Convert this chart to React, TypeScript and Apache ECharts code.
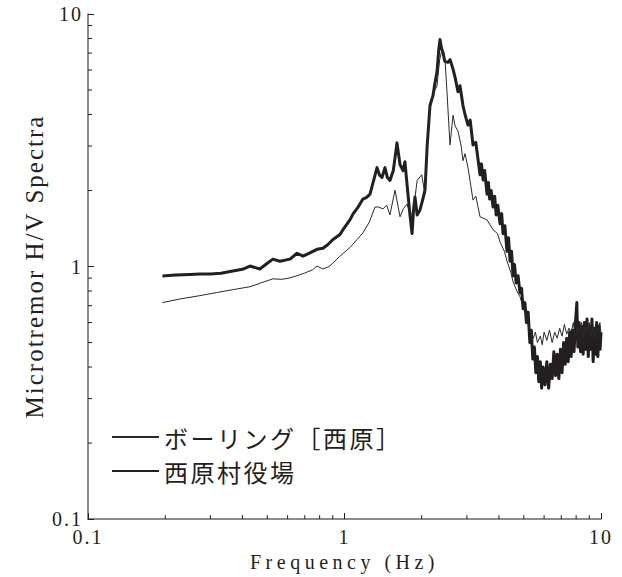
import React, { useEffect, useRef } from 'react';
import * as echarts from 'echarts';

// ボーリング[西原] (thin line): [frequency Hz, H/V]
const boringHV: [number, number][] = [
  [0.195, 0.72], [0.23, 0.745], [0.273, 0.767], [0.32, 0.79], [0.367, 0.81], [0.428, 0.832],
  [0.47, 0.86], [0.526, 0.894], [0.57, 0.89], [0.613, 0.902], [0.653, 0.92], [0.70, 0.943],
  [0.75, 0.97], [0.781, 1.005], [0.824, 0.978], [0.87, 1.0], [0.90, 1.03], [0.96, 1.099],
  [1.05, 1.19], [1.12, 1.28], [1.18, 1.36], [1.25, 1.5], [1.315, 1.721], [1.36, 1.72],
  [1.413, 1.691], [1.46, 1.75], [1.504, 1.602], [1.574, 2.006], [1.646, 1.574], [1.70, 1.70],
  [1.753, 1.768], [1.80, 1.62], [1.85, 1.617], [1.88, 1.85], [1.92, 2.193], [2.0, 2.31],
  [2.06, 1.935], [2.11, 3.2], [2.154, 4.22], [2.25, 5.0], [2.294, 5.19], [2.35, 6.6],
  [2.40, 7.24], [2.465, 6.62], [2.509, 4.92], [2.578, 3.03], [2.649, 3.97], [2.70, 3.6],
  [2.77, 3.44], [2.85, 3.0], [2.897, 2.625], [2.95, 2.8], [3.03, 2.464], [3.17, 1.833],
  [3.25, 1.9], [3.376, 1.574], [3.594, 1.531], [3.793, 1.40], [3.95, 1.35], [4.04, 1.25],
  [4.2, 1.15], [4.3, 1.05], [4.45, 0.95], [4.54, 0.87], [4.7, 0.8], [4.83, 0.76],
  [5.0, 0.68], [5.14, 0.62], [5.29, 0.56], [5.45, 0.52], [5.55, 0.55], [5.65, 0.5],
  [5.8, 0.53], [5.9, 0.49], [6.0, 0.55], [6.15, 0.51], [6.3, 0.56], [6.45, 0.5],
  [6.6, 0.55], [6.75, 0.52], [6.9, 0.57], [7.05, 0.53], [7.2, 0.59], [7.35, 0.54],
  [7.5, 0.57], [7.65, 0.55], [7.8, 0.6], [7.95, 0.53], [8.1, 0.58], [8.25, 0.55],
  [8.4, 0.6], [8.55, 0.52], [8.7, 0.58], [8.85, 0.55], [9.0, 0.6], [9.15, 0.53],
  [9.3, 0.58], [9.45, 0.52], [9.6, 0.57], [9.75, 0.55], [9.9, 0.6], [10.0, 0.54],
];

// 西原村役場 (thick line): [frequency Hz, H/V]
const officeHV: [number, number][] = [
  [0.195, 0.918], [0.22, 0.925], [0.25, 0.93], [0.273, 0.935], [0.3, 0.935], [0.33, 0.94],
  [0.367, 0.96], [0.4, 0.975], [0.428, 1.005], [0.468, 0.978], [0.5, 1.03], [0.526, 1.07],
  [0.56, 1.05], [0.613, 1.07], [0.653, 1.129], [0.689, 1.099], [0.73, 1.13], [0.781, 1.17],
  [0.824, 1.181], [0.86, 1.22], [0.902, 1.28], [0.96, 1.339], [0.987, 1.40], [1.02, 1.47],
  [1.05, 1.531], [1.08, 1.617], [1.13, 1.72], [1.18, 1.85], [1.22, 1.88], [1.257, 1.935],
  [1.30, 2.2], [1.339, 2.464], [1.37, 2.3], [1.40, 2.253], [1.438, 2.464], [1.47, 2.25],
  [1.504, 2.193], [1.55, 2.4], [1.602, 3.088], [1.646, 2.532], [1.691, 2.399], [1.72, 2.6],
  [1.753, 2.117], [1.80, 1.6], [1.834, 1.351], [1.86, 1.7], [1.883, 1.884], [1.92, 1.6],
  [1.97, 1.675], [2.02, 1.85], [2.06, 2.006], [2.10, 3.0], [2.154, 4.34], [2.213, 4.75],
  [2.25, 5.3], [2.294, 5.89], [2.33, 7.2], [2.357, 7.92], [2.39, 7.3], [2.421, 7.05],
  [2.46, 6.5], [2.532, 6.44], [2.58, 6.6], [2.649, 6.05], [2.70, 5.6], [2.77, 4.92],
  [2.82, 5.2], [2.897, 4.34], [2.95, 4.0], [3.03, 3.63], [3.09, 3.8], [3.17, 3.03],
  [3.25, 3.1], [3.376, 2.31], [3.42, 2.55], [3.47, 2.2], [3.52, 2.4], [3.594, 1.935],
  [3.64, 2.15], [3.68, 1.85], [3.73, 2.0], [3.793, 1.721], [3.85, 1.9], [3.9, 1.6],
  [3.96, 1.75], [4.04, 1.477], [4.1, 1.62], [4.15, 1.35], [4.22, 1.45], [4.3, 1.149],
  [4.36, 1.3], [4.42, 1.05], [4.48, 1.15], [4.54, 0.918], [4.6, 1.02], [4.67, 0.86],
  [4.75, 0.92], [4.83, 0.788], [4.9, 0.82], [4.97, 0.68], [5.05, 0.72], [5.12, 0.6],
  [5.2, 0.66], [5.28, 0.5], [5.35, 0.56], [5.42, 0.43], [5.5, 0.48], [5.57, 0.38],
  [5.65, 0.44], [5.72, 0.35], [5.8, 0.42], [5.87, 0.33], [5.95, 0.4], [6.05, 0.34],
  [6.15, 0.42], [6.25, 0.33], [6.35, 0.41], [6.45, 0.36], [6.55, 0.46], [6.65, 0.37],
  [6.75, 0.45], [6.85, 0.36], [6.95, 0.47], [7.05, 0.38], [7.15, 0.5], [7.25, 0.41],
  [7.35, 0.52], [7.45, 0.42], [7.55, 0.55], [7.65, 0.44], [7.75, 0.56], [7.85, 0.46],
  [7.95, 0.6], [8.05, 0.72], [8.12, 0.48], [8.22, 0.6], [8.32, 0.46], [8.42, 0.58],
  [8.52, 0.45], [8.62, 0.6], [8.72, 0.47], [8.82, 0.62], [8.92, 0.44], [9.02, 0.58],
  [9.12, 0.47], [9.22, 0.62], [9.32, 0.42], [9.42, 0.57], [9.52, 0.45], [9.62, 0.6],
  [9.72, 0.44], [9.82, 0.58], [9.92, 0.47], [10.0, 0.55],
];

const minorTicks = [0.2, 0.3, 0.4, 0.5, 0.6, 0.7, 0.8, 0.9, 2, 3, 4, 5, 6, 7, 8, 9];
const seriesNames = ['ボーリング［西原］', '西原村役場'];
const xTitle = 'Frequency (Hz)';
const yTitle = 'Microtremor H/V Spectra';
const axisMin = 0.1;
const axisMax = 10;

const ink = '#231f20';
const serif = '"Liberation Serif", "Times New Roman", serif';

function applySpacing(el: HTMLElement) {
  el.querySelectorAll('text').forEach((t) => {
    const s = t.textContent || '';
    let ls = 2;
    if (s.indexOf('Frequency') === 0) ls = 4.5;
    else if (s.indexOf('Microtremor') === 0) ls = 2;
    else if (/[西ボ]/.test(s)) ls = 2.5;
    (t as SVGTextElement).style.letterSpacing = ls + 'px';
  });
}

export default function App() {
  const ref = useRef<HTMLDivElement>(null);
  useEffect(() => {
    const el = ref.current!;
    const chart = echarts.init(el, undefined, { renderer: 'svg' });
    const axisCommon = {
      type: 'log',
      logBase: 10,
      min: axisMin,
      max: axisMax,
      nameLocation: 'middle',
      axisLine: { lineStyle: { color: '#666', width: 1.5 } },
      axisTick: { inside: true, length: 6, lineStyle: { color: ink, width: 1 } },
      splitLine: { show: false },
      minorTick: { show: false },
    };
    chart.setOption({
      animation: false,
      backgroundColor: '#fff',
      grid: { left: 88, top: 14, right: 21, bottom: 50 },
      xAxis: {
        ...axisCommon,
        name: xTitle,
        nameGap: 26,
        nameTextStyle: { fontFamily: serif, fontSize: 20, color: ink },
        axisLabel: { fontFamily: serif, fontSize: 20, color: ink, margin: 8 },
      },
      yAxis: {
        ...axisCommon,
        name: yTitle,
        nameGap: 38,
        nameTextStyle: { fontFamily: serif, fontSize: 25, color: ink },
        axisLabel: { fontFamily: serif, fontSize: 20, color: ink, margin: 5 },
      },
      legend: {
        data: seriesNames,
        orient: 'vertical',
        left: 106,
        top: 419,
        itemWidth: 47,
        itemHeight: 14,
        itemGap: 8,
        itemStyle: { opacity: 0 },
        textStyle: { fontFamily: '"Noto Sans CJK JP", sans-serif', fontSize: 24, lineHeight: 26, color: ink },
      },
      series: [
        {
          type: 'custom',
          silent: true,
          clip: false,
          data: minorTicks.map((v) => [v, axisMin]),
          renderItem: (_p: any, api: any) => {
            const p = api.coord([api.value(0), api.value(1)]);
            return { type: 'line', shape: { x1: p[0], y1: p[1], x2: p[0], y2: p[1] - 4 }, style: { stroke: ink, lineWidth: 1 } };
          },
        },
        {
          type: 'custom',
          silent: true,
          clip: false,
          data: minorTicks.map((v) => [axisMin, v]),
          renderItem: (_p: any, api: any) => {
            const p = api.coord([api.value(0), api.value(1)]);
            return { type: 'line', shape: { x1: p[0], y1: p[1], x2: p[0] + 4, y2: p[1] }, style: { stroke: ink, lineWidth: 1 } };
          },
        },
        {
          name: seriesNames[1],
          type: 'line',
          data: officeHV,
          symbol: 'none',
          showSymbol: false,
          color: ink,
          lineStyle: { color: ink, width: 3, join: 'round' },
        },
        {
          name: seriesNames[0],
          type: 'line',
          data: boringHV,
          symbol: 'none',
          showSymbol: false,
          color: '#2a2a2a',
          lineStyle: { color: '#2a2a2a', width: 1 },
        },
      ],
    });
    applySpacing(el);
    chart.on('finished', () => applySpacing(el));
    const t1 = setTimeout(() => applySpacing(el), 50);
    const t2 = setTimeout(() => applySpacing(el), 300);
    return () => {
      clearTimeout(t1);
      clearTimeout(t2);
      chart.dispose();
    };
  }, []);
  return <div ref={ref} style={{ position: 'fixed', left: 0, top: 0, width: 622, height: 577, background: '#fff' }} />;
}
